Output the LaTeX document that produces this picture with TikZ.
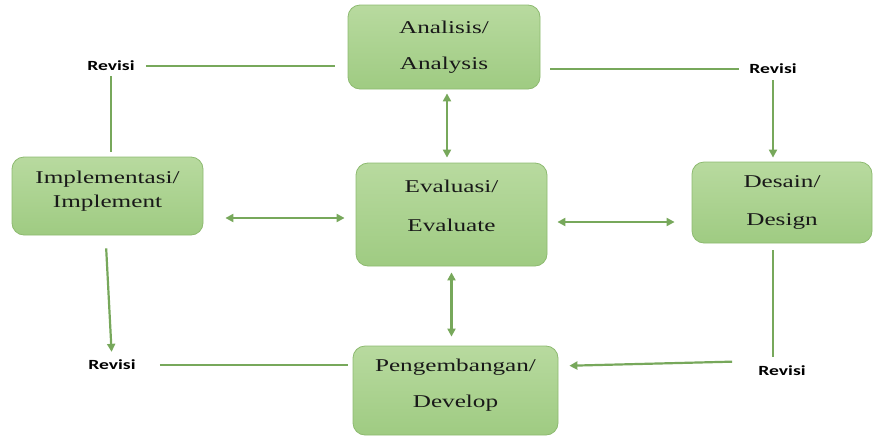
\documentclass[tikz,border=0pt]{standalone}
\usepackage{fontspec}
\usetikzlibrary{arrows.meta}
\newfontfamily\boxfont{Liberation Serif}[FakeStretch=1.4]
\newfontfamily\revfont{Carlito}[FakeStretch=1.4]
\definecolor{boxtop}{HTML}{B8DA9F}
\definecolor{boxbot}{HTML}{9FCB82}
\definecolor{boxline}{HTML}{8DBA70}
\definecolor{linegreen}{HTML}{77A85B}
\tikzset{
  stage/.style={rounded corners=12pt, draw=boxline, line width=0.8pt,
    top color=boxtop, bottom color=boxbot, inner sep=0pt},
  stagetext/.style={align=center, inner sep=0pt, text=black!90,
    font=\boxfont\fontsize{18}{21.6}\selectfont},
  revlabel/.style={font=\revfont\bfseries\fontsize{14}{16}\selectfont, inner sep=0pt},
  conn/.style={draw=linegreen, line width=2.2pt},
  arr/.style={conn, -{Triangle[length=8pt,width=8pt]}},
  darr/.style={conn, {Triangle[length=8pt,width=8pt]}-{Triangle[length=8pt,width=8pt]}}
}
\begin{document}
\begin{tikzpicture}[x=1pt,y=-1pt]
\useasboundingbox (0,0) rectangle (875,437);
% stages
\node[stage, minimum width=192pt, minimum height=84pt] (ana) at (444,47) {};
\node[stage, minimum width=191pt, minimum height=78pt] (imp) at (107.5,196) {};
\node[stage, minimum width=191pt, minimum height=103pt] (eva) at (451.5,214.5) {};
\node[stage, minimum width=180pt, minimum height=81pt] (des) at (782,202.5) {};
\node[stage, minimum width=205pt, minimum height=89pt] (dev) at (455.5,390.5) {};
\node[stagetext] (anat) at (444,47) {Analisis/\\[14pt]Analysis};
\node[stagetext] (impt) at (107.5,191) {Implementasi/\\[2pt]Implement};
\node[stagetext] (evat) at (451.5,206) {Evaluasi/\\[17pt]Evaluate};
\node[stagetext] (dest) at (782,202.5) {Desain/\\[16pt]Design};
\node[stagetext] (devt) at (455.5,385) {Pengembangan/\\[15pt]Develop};
% revision labels
\node[revlabel] (r1) at (111,66) {Revisi};
\node[revlabel] (r2) at (773,69) {Revisi};
\node[revlabel] (r3) at (112,365) {Revisi};
\node[revlabel] (r4) at (782,371) {Revisi};
% revision connectors
\draw[conn, shorten <=11pt, shorten >=13pt] (r1.east) -- (r1.east -| ana.west);
\draw[conn, shorten <=5pt, shorten >=5pt] (r1.south) -- (r1.south |- imp.north);
\draw[conn, shorten <=10pt, shorten >=10pt] (ana.east |- r2.west) -- (r2.west);
\draw[arr, shorten <=6pt, shorten >=4pt] (r2.south) -- (r2.south |- des.north);
\draw[arr, shorten <=13pt, shorten >=8pt] ([xshift=-2pt]imp.south) -- (r3.north);
\draw[conn, shorten <=24pt, shorten >=5pt] (r3.east) -- (r3.east -| dev.west);
\draw[conn, shorten <=7pt, shorten >=9pt] ([xshift=-9pt]des.south) -- ([xshift=-9pt]r4.north);
\draw[arr, shorten <=26pt, shorten >=11pt] ([yshift=10pt]r4.west) -- ([yshift=24.5pt]dev.east);
% evaluation connectors
\draw[darr, shorten <=22pt, shorten >=11pt] ([yshift=-22pt]imp.east) -- ([yshift=-22pt]imp.east -| eva.west);
\draw[darr, shorten <=10pt, shorten >=17pt] ([yshift=-7.5pt]eva.east) -- ([yshift=-7.5pt]eva.east -| des.west);
\draw[darr, shorten <=4pt, shorten >=5pt] ([xshift=3pt]ana.south) -- ([xshift=3pt]ana.south |- eva.north);
\draw[darr, shorten <=6pt, shorten >=9pt] (eva.south) -- (eva.south |- dev.north);
\end{tikzpicture}
\end{document}
